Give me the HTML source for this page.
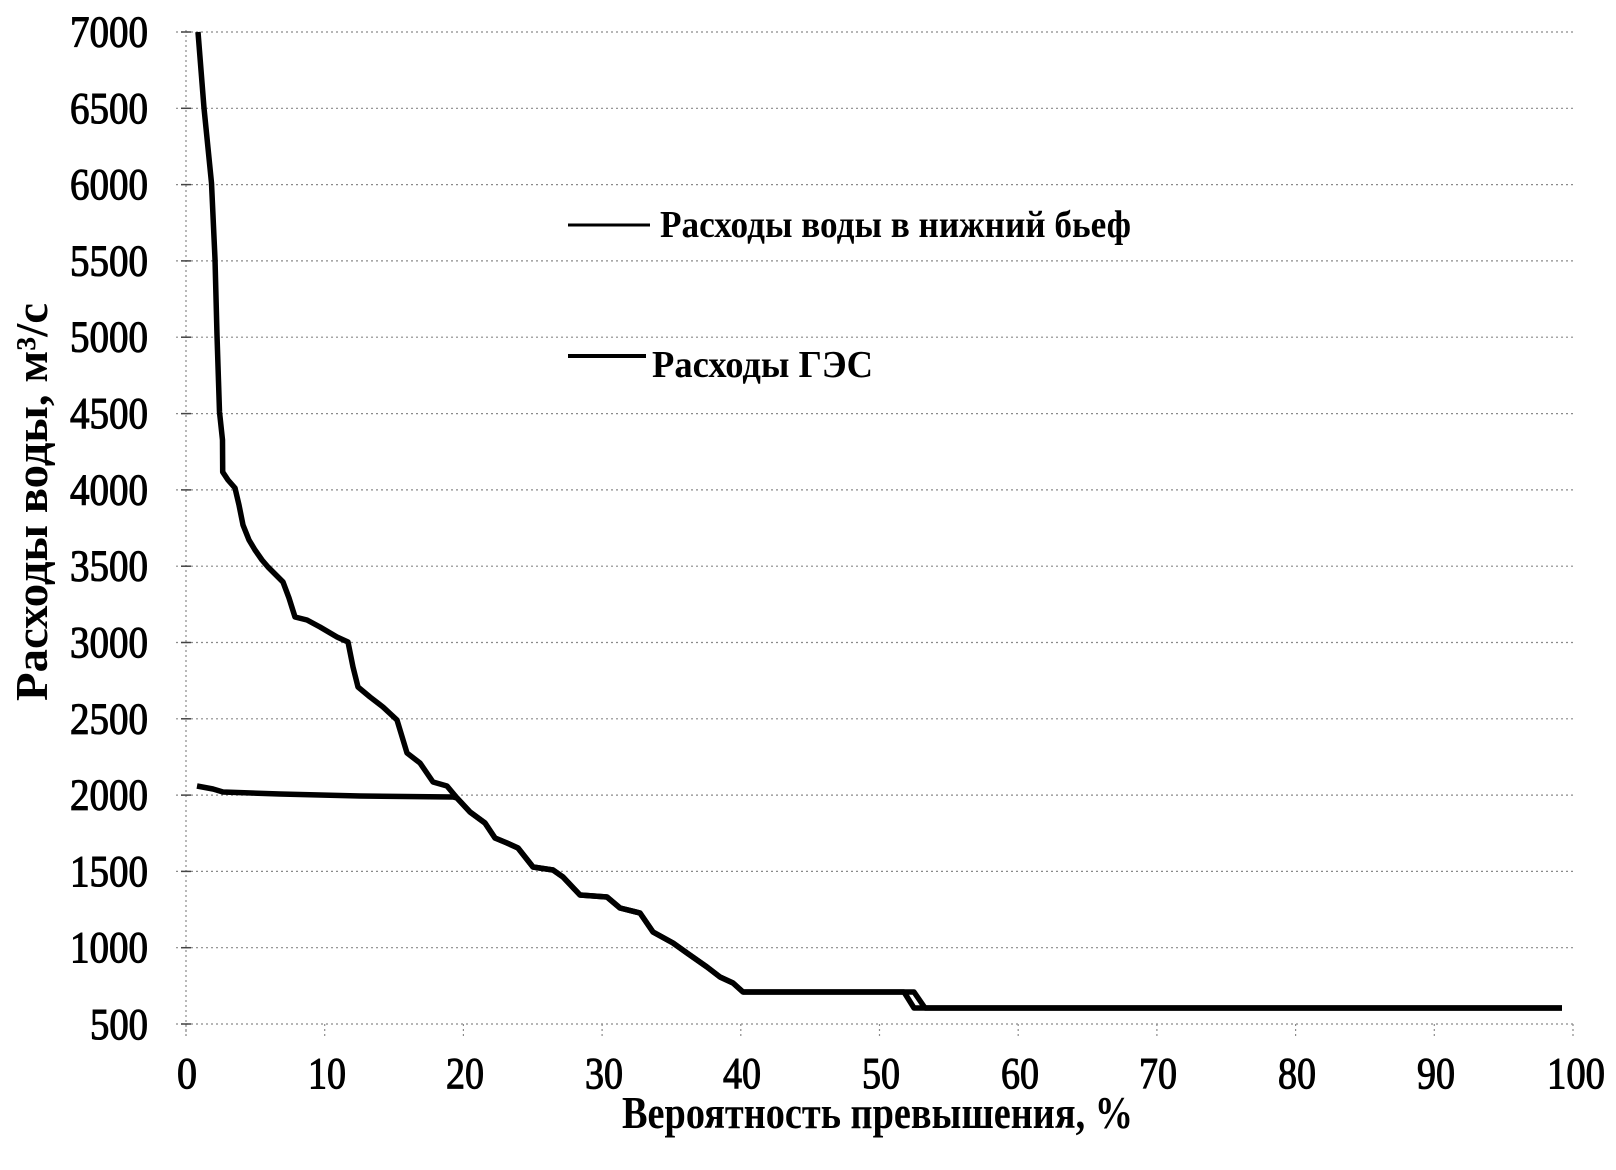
<!DOCTYPE html>
<html>
<head>
<meta charset="utf-8">
<style>
  html,body{margin:0;padding:0;background:#fff;}
  svg{display:block;}
  text{font-family:"Liberation Serif","DejaVu Serif",serif;fill:#000;}
  .tk{font-size:44px;stroke:#000;stroke-width:1.1px;}
  .tt{font-size:46px;font-weight:bold;}
  .lg{font-size:38px;font-weight:bold;}
  .grid{stroke:#8a8a8a;stroke-width:1.2;stroke-dasharray:2 3;fill:none;}
  .crv{fill:none;stroke:#000;stroke-width:5.5;stroke-linejoin:round;stroke-linecap:butt;}
</style>
</head>
<body>
<svg width="1616" height="1170" viewBox="0 0 1616 1170" xmlns="http://www.w3.org/2000/svg">
  <rect width="1616" height="1170" fill="#fff"/>

  <g class="grid">
    <line x1="176" y1="32" x2="1573" y2="32"/>
    <line x1="176" y1="108.3" x2="1573" y2="108.3"/>
    <line x1="176" y1="184.6" x2="1573" y2="184.6"/>
    <line x1="176" y1="260.9" x2="1573" y2="260.9"/>
    <line x1="176" y1="337.2" x2="1573" y2="337.2"/>
    <line x1="176" y1="413.6" x2="1573" y2="413.6"/>
    <line x1="176" y1="489.9" x2="1573" y2="489.9"/>
    <line x1="176" y1="566.2" x2="1573" y2="566.2"/>
    <line x1="176" y1="642.5" x2="1573" y2="642.5"/>
    <line x1="176" y1="718.8" x2="1573" y2="718.8"/>
    <line x1="176" y1="795.1" x2="1573" y2="795.1"/>
    <line x1="176" y1="871.4" x2="1573" y2="871.4"/>
    <line x1="176" y1="947.7" x2="1573" y2="947.7"/>
    <line x1="176" y1="1024" x2="1573" y2="1024"/>
    <line x1="186" y1="30" x2="186" y2="1036"/>
    <line x1="186" y1="1024" x2="186" y2="1036"/>
    <line x1="324.7" y1="1024" x2="324.7" y2="1036"/>
    <line x1="463.4" y1="1024" x2="463.4" y2="1036"/>
    <line x1="602.1" y1="1024" x2="602.1" y2="1036"/>
    <line x1="740.8" y1="1024" x2="740.8" y2="1036"/>
    <line x1="879.5" y1="1024" x2="879.5" y2="1036"/>
    <line x1="1018.2" y1="1024" x2="1018.2" y2="1036"/>
    <line x1="1156.9" y1="1024" x2="1156.9" y2="1036"/>
    <line x1="1295.6" y1="1024" x2="1295.6" y2="1036"/>
    <line x1="1434.3" y1="1024" x2="1434.3" y2="1036"/>
    <line x1="1573" y1="1024" x2="1573" y2="1036"/>
  </g>
  <g stroke="#444" stroke-width="1.5">
    <line x1="181" y1="32" x2="191" y2="32"/>
    <line x1="181" y1="108.3" x2="191" y2="108.3"/>
    <line x1="181" y1="184.6" x2="191" y2="184.6"/>
    <line x1="181" y1="260.9" x2="191" y2="260.9"/>
    <line x1="181" y1="337.2" x2="191" y2="337.2"/>
    <line x1="181" y1="413.6" x2="191" y2="413.6"/>
    <line x1="181" y1="489.9" x2="191" y2="489.9"/>
    <line x1="181" y1="566.2" x2="191" y2="566.2"/>
    <line x1="181" y1="642.5" x2="191" y2="642.5"/>
    <line x1="181" y1="718.8" x2="191" y2="718.8"/>
    <line x1="181" y1="795.1" x2="191" y2="795.1"/>
    <line x1="181" y1="871.4" x2="191" y2="871.4"/>
    <line x1="181" y1="947.7" x2="191" y2="947.7"/>
    <line x1="181" y1="1024" x2="191" y2="1024"/>
  </g>

  <g class="tk" text-anchor="end">
    <text x="148" y="46.5" textLength="78" lengthAdjust="spacingAndGlyphs">7000</text>
    <text x="148" y="122.8" textLength="78" lengthAdjust="spacingAndGlyphs">6500</text>
    <text x="148" y="199.1" textLength="78" lengthAdjust="spacingAndGlyphs">6000</text>
    <text x="148" y="275.4" textLength="78" lengthAdjust="spacingAndGlyphs">5500</text>
    <text x="148" y="351.7" textLength="78" lengthAdjust="spacingAndGlyphs">5000</text>
    <text x="148" y="428.1" textLength="78" lengthAdjust="spacingAndGlyphs">4500</text>
    <text x="148" y="504.4" textLength="78" lengthAdjust="spacingAndGlyphs">4000</text>
    <text x="148" y="580.7" textLength="78" lengthAdjust="spacingAndGlyphs">3500</text>
    <text x="148" y="657" textLength="78" lengthAdjust="spacingAndGlyphs">3000</text>
    <text x="148" y="733.3" textLength="78" lengthAdjust="spacingAndGlyphs">2500</text>
    <text x="148" y="809.6" textLength="78" lengthAdjust="spacingAndGlyphs">2000</text>
    <text x="148" y="885.9" textLength="78" lengthAdjust="spacingAndGlyphs">1500</text>
    <text x="148" y="962.2" textLength="78" lengthAdjust="spacingAndGlyphs">1000</text>
    <text x="148" y="1039" textLength="58" lengthAdjust="spacingAndGlyphs">500</text>
  </g>

  <g class="tk" text-anchor="middle">
    <text x="187" y="1088" textLength="20" lengthAdjust="spacingAndGlyphs">0</text>
    <text x="327" y="1088" textLength="38" lengthAdjust="spacingAndGlyphs">10</text>
    <text x="465" y="1088" textLength="38" lengthAdjust="spacingAndGlyphs">20</text>
    <text x="604" y="1088" textLength="38" lengthAdjust="spacingAndGlyphs">30</text>
    <text x="742" y="1088" textLength="38" lengthAdjust="spacingAndGlyphs">40</text>
    <text x="881" y="1088" textLength="38" lengthAdjust="spacingAndGlyphs">50</text>
    <text x="1020" y="1088" textLength="38" lengthAdjust="spacingAndGlyphs">60</text>
    <text x="1158" y="1088" textLength="38" lengthAdjust="spacingAndGlyphs">70</text>
    <text x="1297" y="1088" textLength="38" lengthAdjust="spacingAndGlyphs">80</text>
    <text x="1436" y="1088" textLength="38" lengthAdjust="spacingAndGlyphs">90</text>
    <text x="1576" y="1088" textLength="58" lengthAdjust="spacingAndGlyphs">100</text>
  </g>

  <text class="tt" x="622" y="1128" textLength="511" lengthAdjust="spacingAndGlyphs">Вероятность превышения, %</text>
  <text class="tt" transform="translate(47,502) rotate(-90)" text-anchor="middle" textLength="398" lengthAdjust="spacingAndGlyphs">Расходы воды, м³/с</text>

  <polyline class="crv" points="198,32 204,108 211.5,183 215,259 217,335 219.5,412 222.5,440 222.7,472 228,480 235,488 239,505 243,525 249,540 255,550 262,560 268,567 283,582 289,598 295,617 307,620 320,627 337,637 348,642 353,667 358,687 370,697 383,707 397,720 407,753 420,763 433,782 447,786 457,798 470,812 485,823 495,838 507,843 518,848 533,867 553,870 563,877 580,895 607,897 620,908 640,913 653,932 673,943 687,953 707,967 720,977 733,983 743,992 914,992 925,1008 1562,1008"/>

  <polyline class="crv" points="197,786 213,789 223,792 280,794 360,796 453,797 457,798 470,812 485,823 495,838 507,843 518,848 533,867 553,870 563,877 580,895 607,897 620,908 640,913 653,932 673,943 687,953 707,967 720,977 733,983 743,992 904,992 914,1008 1562,1008"/>

  <line x1="568" y1="225" x2="650" y2="225" stroke="#000" stroke-width="3"/>
  <text class="lg" x="660" y="237" textLength="471" lengthAdjust="spacingAndGlyphs">Расходы воды в нижний бьеф</text>
  <line x1="568" y1="356" x2="646" y2="356" stroke="#000" stroke-width="4"/>
  <text class="lg" x="652" y="377" textLength="221" lengthAdjust="spacingAndGlyphs">Расходы ГЭС</text>
</svg>
</body>
</html>
